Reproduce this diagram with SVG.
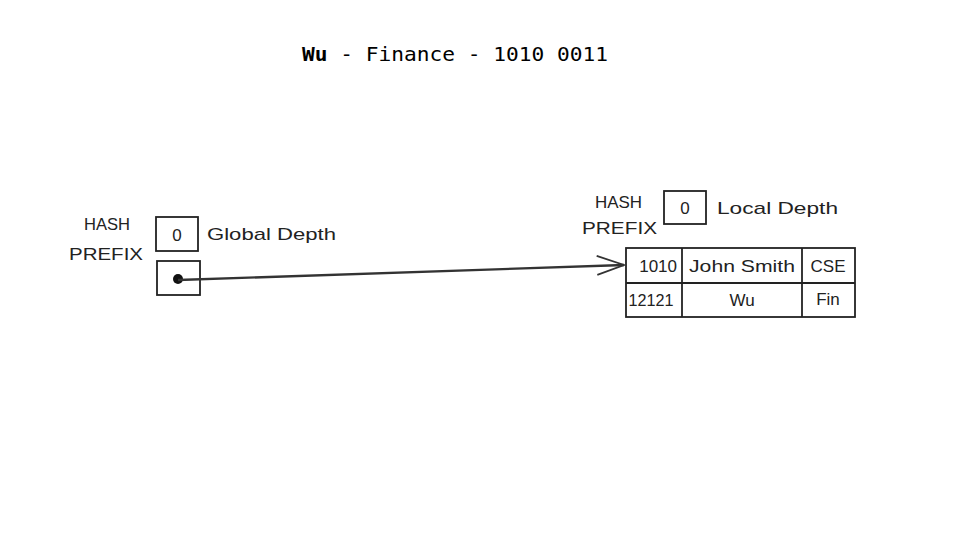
<svg xmlns="http://www.w3.org/2000/svg" width="960" height="540" viewBox="0 0 960 540">
<style>
.hand{font-family:"Liberation Sans","DejaVu Sans",sans-serif;font-size:17px;fill:#222}
.box{fill:none;stroke:#222;stroke-width:1.8}
.title{font-family:"DejaVu Sans Mono","Liberation Mono",monospace;font-size:20px;fill:#000}
.edge{fill:none;stroke:#333;stroke-width:2.4}
</style>
<defs>
<marker id="open" markerWidth="30" markerHeight="24" refX="28" refY="12" orient="auto" markerUnits="userSpaceOnUse">
<path d="M1,2 L28,12 L1,21" fill="none" stroke="#333" stroke-width="1.8"/>
</marker>
</defs>
<rect width="960" height="540" fill="#fff"/>
<text class="title" x="302" y="61" textLength="306" lengthAdjust="spacingAndGlyphs"><tspan font-weight="bold">Wu</tspan> - Finance - 1010 0011</text>

<g id="global-depth">
<text class="hand" x="84" y="230" textLength="46" lengthAdjust="spacingAndGlyphs">HASH</text>
<text class="hand" x="69" y="260" textLength="74" lengthAdjust="spacingAndGlyphs">PREFIX</text>
<rect class="box" x="156" y="217" width="42" height="34"/>
<text class="hand" x="177" y="241" text-anchor="middle">0</text>
<text class="hand" x="207" y="240" textLength="129" lengthAdjust="spacingAndGlyphs">Global Depth</text>
</g>

<g id="directory-slot">
<rect class="box" x="157" y="261" width="43" height="34"/>
<circle cx="178" cy="279" r="5" fill="#111"/>
</g>

<g id="local-depth">
<text class="hand" x="595" y="208" textLength="47" lengthAdjust="spacingAndGlyphs">HASH</text>
<text class="hand" x="582" y="234" textLength="75" lengthAdjust="spacingAndGlyphs">PREFIX</text>
<rect class="box" x="664" y="191" width="42" height="33"/>
<text class="hand" x="685" y="214" text-anchor="middle">0</text>
<text class="hand" x="717" y="214" textLength="121" lengthAdjust="spacingAndGlyphs">Local Depth</text>
</g>

<g id="bucket">
<rect class="box" x="626" y="248" width="229" height="69"/>
<line class="box" x1="626" y1="283" x2="855" y2="283"/>
<line class="box" x1="682" y1="248" x2="682" y2="317"/>
<line class="box" x1="802" y1="248" x2="802" y2="317"/>
<text class="hand" x="677" y="272" text-anchor="end">1010</text>
<text class="hand" x="742" y="272" text-anchor="middle" textLength="106" lengthAdjust="spacingAndGlyphs">John Smith</text>
<text class="hand" x="828" y="272" text-anchor="middle">CSE</text>
<text class="hand" x="651" y="306" text-anchor="middle" textLength="45" lengthAdjust="spacingAndGlyphs">12121</text>
<text class="hand" x="742" y="306" text-anchor="middle">Wu</text>
<text class="hand" x="828" y="305" text-anchor="middle">Fin</text>
</g>

<g id="connectors">
<path class="edge" d="M178,280 L624,265" marker-end="url(#open)"/>
</g>
</svg>
